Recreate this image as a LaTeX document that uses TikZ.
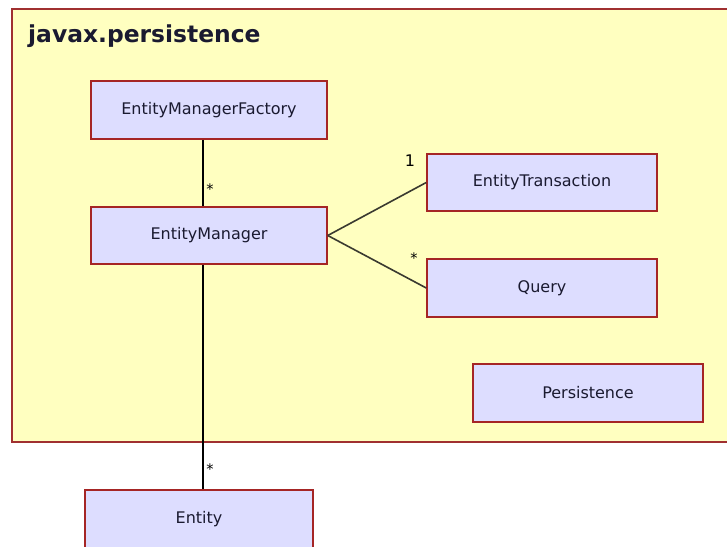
\documentclass[tikz,border=0pt]{standalone}
\usepackage{fontspec}
\setmainfont{DejaVu Sans}
\begin{document}
\begin{tikzpicture}[x=1pt,y=-1pt,
  pkg/.style={draw=pkgborder,fill=pkgfill,line width=1.5pt},
  cls/.style={draw=clsborder,fill=clsfill,line width=1.5pt,minimum width=230pt,minimum height=57pt,inner sep=0pt,font=\fontsize{16}{19}\selectfont,text=txt},
  assoc/.style={line width=1.6pt,draw=black},
  assocd/.style={line width=1.6pt,draw=linegray},
  mult/.style={font=\fontsize{14.5}{17}\selectfont,text=black,inner sep=0pt}]
\definecolor{pkgfill}{HTML}{FFFFC0}
\definecolor{pkgborder}{HTML}{A03030}
\definecolor{clsfill}{HTML}{DDDDFF}
\definecolor{clsborder}{HTML}{A52525}
\definecolor{txt}{HTML}{1A1A30}
\definecolor{linegray}{HTML}{3A3A30}
\useasboundingbox (0,0) rectangle (727,546);
\clip (0,0) rectangle (727,546);
\fill[white] (0,0) rectangle (727,546);
\draw[pkg] (12,9) rectangle (760,442);
\node[anchor=base west,inner sep=0pt,font=\fontsize{23.4}{26}\bfseries\selectfont,text=txt] (title) at (28,42) {javax.persistence};
\node[cls,minimum width=236pt,minimum height=58pt] (emf) at (209,110) {EntityManagerFactory};
\node[cls,minimum width=236pt,minimum height=57pt] (em) at (209,235.5) {EntityManager};
\node[cls] (et) at (542,182.5) {EntityTransaction};
\node[cls,minimum height=58pt] (q) at (542,288) {Query};
\node[cls,minimum height=58pt] (p) at (588,393) {Persistence};
\node[cls,minimum width=228pt,minimum height=58pt] (ent) at (199,519) {Entity};
\draw[assoc] ([xshift=-6pt]emf.south) -- ([xshift=-6pt]em.north);
\draw[assoc] ([xshift=-6pt]em.south) -- ([xshift=4pt]ent.north);
\draw[assocd] (em.east) -- (et.west);
\draw[assocd] (em.east) -- (q.west);
\node[mult] (m1) at (210,189) {*};
\node[mult] (m2) at (210,469) {*};
\node[mult,font=\fontsize{16}{19}\selectfont] (m3) at (410,161) {1};
\node[mult] (m4) at (414,258) {*};
\end{tikzpicture}
\end{document}
